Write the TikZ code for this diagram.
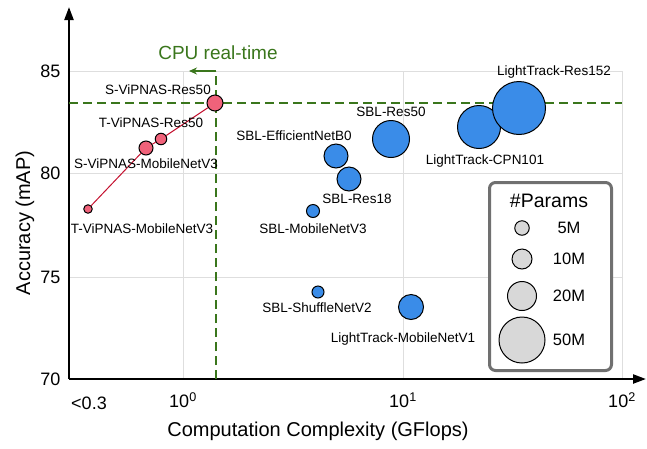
\documentclass[tikz,border=0pt]{standalone}
\usepackage{fontspec}
\setmainfont{Liberation Sans}
\usetikzlibrary{arrows.meta}
\definecolor{vipred}{RGB}{240,98,122}
\definecolor{vipline}{RGB}{196,18,48}
\definecolor{sblblue}{RGB}{58,140,232}
\definecolor{rtgreen}{RGB}{58,118,28}
\definecolor{gridgray}{RGB}{222,222,222}
\definecolor{leggray}{RGB}{216,216,216}
\definecolor{boxgray}{RGB}{112,112,112}
\tikzset{axis/.style={line width=2.2pt, -{Triangle[length=13pt,width=9pt]}},
  gridline/.style={gridgray, line width=1pt},
  rt/.style={rtgreen, line width=1.5pt},
  dot/.style={circle, draw, line width=1pt, inner sep=0pt},
  vip/.style={dot, fill=vipred},
  sbl/.style={dot, fill=sblblue},
  legdot/.style={dot, fill=leggray},
  lbl/.style={font=\fontsize{13.5}{15}\selectfont},
  tick/.style={font=\fontsize{18}{20}\selectfont},
  ttl/.style={font=\fontsize{20}{22}\selectfont}}

\begin{document}
\begin{tikzpicture}[x=1pt, y=-1pt]
  \useasboundingbox (0,0) rectangle (647,448);
  % grid: 85/80/75 rows, 10^0/10^1/10^2 columns
  \draw[gridline] (69,71) -- (622,71) (69,173) -- (622,173) (69,277) -- (622,277)
    (183,71) -- (183,379) (403,71) -- (403,379) (622,71) -- (622,379);
  \draw[axis] (69,379) -- (69,7);
  \draw[axis] (69,379) -- (646,379);
  \foreach \v/\py in {85/71,80/173,75/277,70/379}
    \node[tick, anchor=east] (t\v) at (64,\py) {\v};
  \node[tick] (xlow) at (89,403) {<0.3};
  \node[tick] (x0) at (183,400) {10\textsuperscript{0}};
  \node[tick] (x1) at (403,400) {10\textsuperscript{1}};
  \node[tick] (x2) at (622,400) {10\textsuperscript{2}};
  \node[ttl] (xttl) at (318,431) {Computation Complexity (GFlops)};
  \node[ttl, rotate=90] (yttl) at (25,223) {Accuracy (mAP)};
  % CPU real-time bound
  \draw[rt, dash pattern=on 9pt off 5pt] (69,103) -- (622,103);
  \draw[rt, dash pattern=on 9pt off 5pt] (216,379) -- (216,71);
  \draw[rt, -{Stealth[length=8pt,width=7pt]}] (216,71) -- (189,71);
  \node[ttl, rtgreen, font=\fontsize{19}{21}\selectfont] (cpu) at (218,53) {CPU real-time};
  % ViPNAS
  \node[vip, minimum size=8.5pt] (tmb) at (88,209) {};
  \node[vip, minimum size=14pt] (smb) at (146,148) {};
  \node[vip, minimum size=11.5pt] (tres) at (161,139) {};
  \node[vip, minimum size=16pt] (sres) at (215,103) {};
  \draw[vipline, line width=1pt] (tmb) -- (smb) -- (tres) -- (sres);
  \node[lbl] (sresl) at (158,90) {S-ViPNAS-Res50};
  \node[lbl] (tresl) at (151,123) {T-ViPNAS-Res50};
  \node[lbl] (smbl) at (146,164) {S-ViPNAS-MobileNetV3};
  \node[lbl] (tmbl) at (142,229) {T-ViPNAS-MobileNetV3};
  % SBL / LightTrack
  \node[sbl, minimum size=24pt] (effb0) at (336,156) {};
  \node[sbl, minimum size=24pt] (res18) at (349,179) {};
  \node[sbl, minimum size=37pt] (res50) at (391,139) {};
  \node[sbl, minimum size=43pt] (cpn) at (479,127) {};
  \node[sbl, minimum size=53pt] (r152) at (519,108) {};
  \node[sbl, minimum size=13pt] (mb3) at (313,211) {};
  \node[sbl, minimum size=12pt] (shuf) at (318,292) {};
  \node[sbl, minimum size=25pt] (mb1) at (411,307) {};
  \node[lbl] (effb0l) at (294,136) {SBL-EfficientNetB0};
  \node[lbl] (res18l) at (357,199) {SBL-Res18};
  \node[lbl] (res50l) at (391,112) {SBL-Res50};
  \node[lbl] (r152l) at (554,72) {LightTrack-Res152};
  \node[lbl] (cpnl) at (485,161) {LightTrack-CPN101};
  \node[lbl] (mb3l) at (313,229) {SBL-MobileNetV3};
  \node[lbl] (shufl) at (317,308) {SBL-ShuffleNetV2};
  \node[lbl] (mb1l) at (403,339) {LightTrack-MobileNetV1};
  % legend
  \node[draw=boxgray, line width=3pt, rounded corners=6pt, fill=white,
    minimum width=122pt, minimum height=188pt] (legbox) at (550.5,276.5) {};
  \node[ttl, font=\fontsize{19.5}{21}\selectfont] (legt) at (549,201) {\#Params};
  \foreach \n/\d/\py in {5/14.5/228,10/20/259,20/29/296,50/46/340}{
    \node[legdot, minimum size=\d pt] (p\n) at (522,\py) {};
    \node[font=\fontsize{16.5}{18}\selectfont] (p\n l) at (569,\py) {\n M};}
\end{tikzpicture}
\end{document}
